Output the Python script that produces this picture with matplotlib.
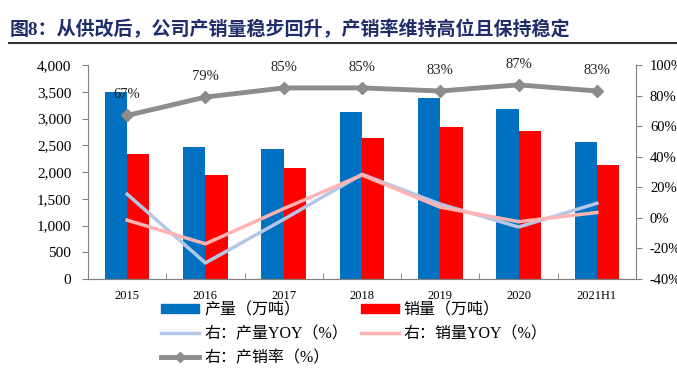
import matplotlib
matplotlib.use("Agg")
import matplotlib.pyplot as plt
import numpy as np
from matplotlib.lines import Line2D
from matplotlib.patches import Patch

categories = ["2015", "2016", "2017", "2018", "2019", "2020", "2021H1"]
production = [3500, 2460, 2430, 3115, 3390, 3180, 2560]
sales = [2340, 1940, 2070, 2640, 2840, 2760, 2140]
prod_yoy = [15.5, -29.5, -1.0, 28.5, 9.0, -6.0, 9.5]
sales_yoy = [-1.5, -17.0, 6.0, 28.0, 7.0, -2.5, 3.5]
sell_rate = [67, 79, 85, 85, 83, 87, 83]
left_ticks = [0, 500, 1000, 1500, 2000, 2500, 3000, 3500, 4000]
right_ticks = [-40, -20, 0, 20, 40, 60, 80, 100]

FONT = ["Liberation Serif", "Noto Sans CJK SC", "DejaVu Sans"]
plt.rcParams["font.family"] = FONT

BLUE = "#0070C0"
RED = "#FF0000"
LBLUE = "#B4C7E7"
PINK = "#FFB3B3"
GRAY = "#8C8C8C"
SPINE = "#808080"

fig = plt.figure(figsize=(6.77, 3.68), dpi=100)
ax = fig.add_axes([88 / 677, 1 - 279 / 368, (636 - 88) / 677, (279 - 65) / 368])
ax2 = ax.twinx()

x = np.arange(len(categories))
w = 0.285
ax.bar(x - w / 2, production, w, color=BLUE, zorder=2)
ax.bar(x + w / 2, sales, w, color=RED, zorder=2)
ax.set_xlim(-0.5, len(categories) - 0.5)
ax.set_ylim(0, 4000)
ax.set_yticks(left_ticks)
ax.set_yticklabels([f"{v:,}" for v in left_ticks], fontsize=11)
ax.set_xticks(x)
ax.set_xticklabels(categories, fontsize=9)
ax.set_xticks(np.arange(0.5, len(categories) - 1, 1), minor=True)
ax.tick_params(axis="x", which="major", length=0, pad=8)
ax.tick_params(axis="x", which="minor", direction="in", length=4, color=SPINE)
ax.tick_params(axis="y", direction="out", length=4, color=SPINE, pad=8)

ax2.plot(x, prod_yoy, color=LBLUE, lw=2.5, zorder=3)
ax2.plot(x, sales_yoy, color=PINK, lw=2.5, zorder=3)
ax2.plot(x, sell_rate, color=GRAY, lw=3.5, marker="D", ms=6, zorder=4)
for xi, v in zip(x, sell_rate):
    ax2.annotate(f"{v}%", (xi, v), xytext=(0, 15), textcoords="offset points",
                 ha="center", va="center", fontsize=10.5, color="#222222")
ax2.set_ylim(-40, 100)
ax2.set_yticks(right_ticks)
ax2.set_yticklabels([f"{v}%" for v in right_ticks], fontsize=10.5)
ax2.tick_params(axis="y", direction="out", length=4, color=SPINE, pad=6)

for a in (ax, ax2):
    a.spines["top"].set_visible(False)
    a.spines["left"].set_color(SPINE)
    a.spines["right"].set_color(SPINE)
    a.spines["bottom"].set_color(SPINE)
ax.spines["right"].set_visible(False)
ax2.spines["left"].set_visible(False)

handles = [
    Patch(color=BLUE), Patch(color=RED),
    Line2D([], [], color=LBLUE, lw=2.5), Line2D([], [], color=PINK, lw=2.5),
    Line2D([], [], color=GRAY, lw=3.5, marker="D", ms=5),
]
labels = ["产量（万吨）", "销量（万吨）", "右：产量YOY（%）", "右：销量YOY（%）", "右：产销率（%）"]
order = [0, 2, 4, 1, 3]
leg = fig.legend([handles[i] for i in order], [labels[i] for i in order],
                 ncol=2, loc="upper left", bbox_to_anchor=(161 / 677, 1 - 302 / 368),
                 frameon=False, fontsize=11.5, handlelength=2.4, handleheight=0.55,
                 columnspacing=0.8, labelspacing=0.52, handletextpad=0.3,
                 borderaxespad=0, borderpad=0)

fig.text(10 / 677, 1 - 29.5 / 368, "图8：从供改后，公司产销量稳步回升，产销率维持高位且保持稳定",
         fontsize=13.7, fontweight="bold", color="#1F2D6B", ha="left", va="center",
         family=["Liberation Serif", "Noto Sans CJK SC"])
fig.add_artist(Line2D([9 / 677, 1.0], [1 - 43 / 368, 1 - 43 / 368], color="#333333", lw=1.5))

fig.savefig("out.png", dpi=100)
